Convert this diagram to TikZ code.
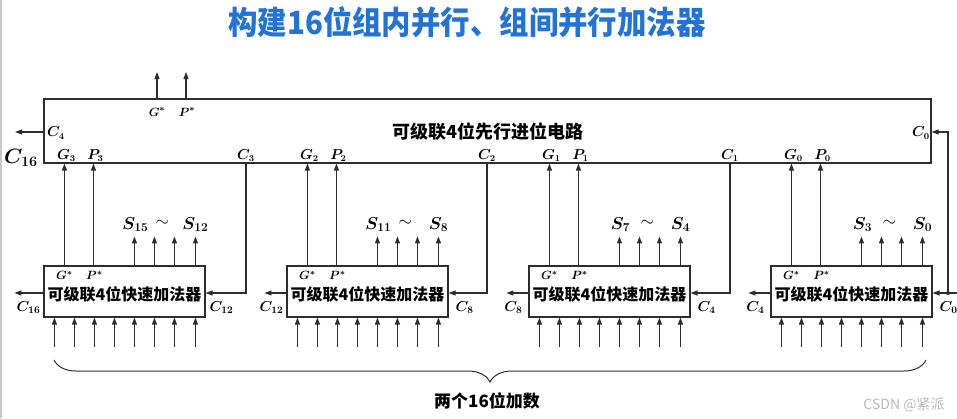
\documentclass[tikz,border=0pt]{standalone}
\usepackage{amsmath,bm}
\usepackage{fontspec}
\newfontfamily\cjk{Noto Sans CJK SC}
\usetikzlibrary{arrows.meta,calc,decorations.pathreplacing}
\definecolor{lc}{RGB}{45,45,45}
\definecolor{titleblue}{RGB}{35,115,215}
\newcommand\mb[1]{$\bm{#1}$}
\begin{document}
\begin{tikzpicture}[x=1pt,y=-1pt,
  line/.style={draw=lc, line width=1.1pt},
  arr/.style={line, -{Triangle[length=7pt,width=5pt]}},
  adder/.style={line, rectangle, minimum width=161pt, minimum height=51pt, inner sep=0pt},
  bigbox/.style={line, rectangle, minimum width=887pt, minimum height=64pt, inner sep=0pt},
  cjkb/.style={font=\cjk\bfseries\fontsize{16}{16}\selectfont, inner sep=0pt},
  glab/.style={font=\fontsize{13.5}{14}\selectfont, inner sep=0pt},
  slab/.style={font=\fontsize{16.5}{17}\selectfont, inner sep=0pt},
  clab/.style={font=\fontsize{14}{14}\selectfont, inner sep=0pt},
  starlab/.style={font=\fontsize{13}{13}\selectfont, inner sep=0pt}]
\useasboundingbox (0,0) rectangle (957,418);
\draw[gray!45, line width=2.5pt] (1,0) -- (1,418);
% title
\node[font=\cjk\bfseries\fontsize{32}{32}\selectfont, text=titleblue, xscale=0.92] (title) at (467,22) {构建16位组内并行、组间并行加法器};
% big carry-lookahead box
\node[bigbox] (cla) at (487.5,131) {};
\node[cjkb, font=\cjk\bfseries\fontsize{18}{18}\selectfont] (clatxt) at (488,132) {可级联4位先行进位电路};
% G* P* outputs
\coordinate (gs) at (157,72);
\coordinate (ps) at (186,72);
\draw[arr] (gs |- cla.north) -- (gs);
\draw[arr] (ps |- cla.north) -- (ps);
\node[starlab] (gslab) at (157,112) {\mb{G^{*}}};
\node[starlab] (pslab) at (187,112) {\mb{P^{*}}};
% C4 out of big box
\coordinate (c4l) at (15,132);
\draw[arr] (cla.west |- c4l) -- (c4l);
\node[glab] (c4lab) at (56,133) {\mb{C_4}};
\node[font=\fontsize{22}{22}\selectfont, inner sep=0pt] (c16big) at (21,158) {\mb{C_{16}}};
% C0 label inside
\node[glab] (c0lab) at (921,133) {\mb{C_0}};
% adders
\foreach \i/\xl/\cl/\cx in {3/44/C_3/246, 2/287/C_2/487, 1/529/C_1/730}{
  \node[adder] (a\i) at (\xl+80.5,291.5) {};
  \node[cjkb] at (\xl+80.5,294) {可级联4位快速加法器};
  \coordinate (g\i) at ($(a\i.north west)+(21,0)$);
  \coordinate (p\i) at ($(a\i.north west)+(50,0)$);
  \draw[arr] (g\i) -- (g\i |- cla.south);
  \draw[arr] (p\i) -- (p\i |- cla.south);
  \node[starlab] at ($(a\i.north west)+(21,10)$) {\mb{G^{*}}};
  \node[starlab] at ($(a\i.north west)+(51,10)$) {\mb{P^{*}}};
  \node[glab] at ($(g\i |- cla.south)+(2,-8)$) {\mb{G_{\i}}};
  \node[glab] at ($(p\i |- cla.south)+(2,-8)$) {\mb{P_{\i}}};
  % carry in from CLA
  \coordinate (cc\i) at (\cx,163);
  \draw[arr] (cc\i |- cla.south) |- ($(a\i.east)+(0,1.5)$);
  \node[glab] at ($(cc\i |- cla.south)+(0,-8)$) {\mb{\cl}};
}
\node[adder] (a0) at (771+80.5,291.5) {};
\node[cjkb] at (771+80.5,294) {可级联4位快速加法器};
\coordinate (g0) at ($(a0.north west)+(21,0)$);
\coordinate (p0) at ($(a0.north west)+(50,0)$);
\draw[arr] (g0) -- (g0 |- cla.south);
\draw[arr] (p0) -- (p0 |- cla.south);
\node[starlab] at ($(a0.north west)+(21,10)$) {\mb{G^{*}}};
\node[starlab] at ($(a0.north west)+(51,10)$) {\mb{P^{*}}};
\node[glab] at ($(g0 |- cla.south)+(2,-8)$) {\mb{G_{0}}};
\node[glab] at ($(p0 |- cla.south)+(2,-8)$) {\mb{P_{0}}};
% C0 input
\coordinate (c0in) at (960,293);
\coordinate (j0) at (948,293);
\coordinate (c0t) at (948,132);
\draw[arr] (c0in) -- (a0.east |- c0in);
\draw[arr] (j0) -- (c0t) -- (cla.east |- c0t);
\fill[lc] (j0) circle (2pt);
% common per-adder parts
\foreach \i/\cin/\cout/\smax/\smin/\lo in {3/C_{12}/C_{16}/S_{15}/S_{12}/29, 2/C_8/C_{12}/S_{11}/S_8/22, 1/C_4/C_8/S_7/S_4/22, 0/C_0/C_4/S_3/S_0/22}{
  \foreach \k in {91,111,131,152}{
    \draw[arr] ($(a\i.north west)+(\k,0)$) -- ++(0,-29);
  }
  \foreach \k in {11,31,51,71,91,111,131,152}{
    \draw[arr] ($(a\i.south west)+(\k,29)$) -- ($(a\i.south west)+(\k,0)$);
  }
  \node[slab] at ($(a\i.north west)+(92,-41)$) {\mb{\smax}};
  \node[slab] at ($(a\i.north west)+(119,-42)$) {$\sim$};
  \node[slab] at ($(a\i.north west)+(152,-41)$) {\mb{\smin}};
  \draw[arr] ($(a\i.west)+(0,1.5)$) -- ++(-\lo,0);
  \node[clab] at ($(a\i.south west)+(-15,-10)$) {\mb{\cout}};
  \node[clab] at ($(a\i.south east)+(16,-10)$) {\mb{\cin}};
}
% brace
\draw[line, line width=1pt, decorate, decoration={brace, amplitude=22pt, mirror}] (54,360) -- (926,360);
\node[cjkb, font=\cjk\bfseries\fontsize{17}{17}\selectfont] (sumlab) at (487,401) {两个16位加数};
\node[font=\cjk\fontsize{14}{14}\selectfont, text=gray!55, inner sep=0pt] (wm) at (904,405) {CSDN @紧派};
\end{tikzpicture}
\end{document}
